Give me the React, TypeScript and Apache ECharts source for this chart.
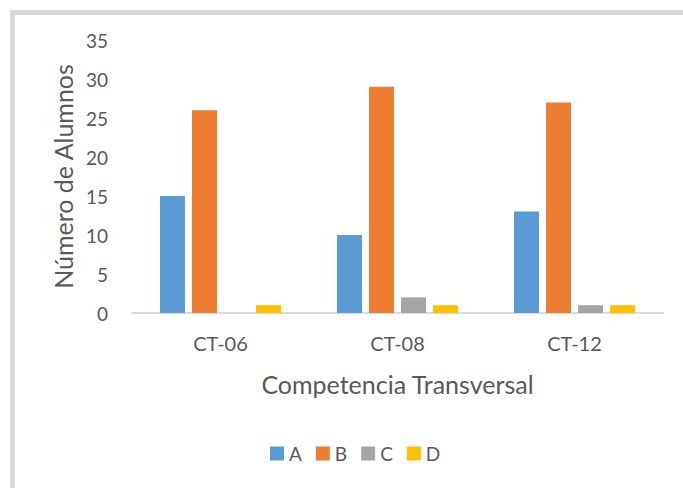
import React, { useEffect, useRef } from "react";
import * as echarts from "echarts";

const categories = ["CT-06", "CT-08", "CT-12"];
const seriesNames = ["A", "B", "C", "D"];
const valuesA = [15, 10, 13];
const valuesB = [26, 29, 27];
const valuesC = [0, 2, 1];
const valuesD = [1, 1, 1];
const colors = ["#5b9bd5", "#ed7d31", "#a5a5a5", "#ffc000"];

export default function App() {
  const ref = useRef<HTMLDivElement>(null);
  useEffect(() => {
    if (!ref.current) return;
    const chart = echarts.init(ref.current, undefined, { renderer: "svg" });
    const data = [valuesA, valuesB, valuesC, valuesD];
    const font = "Lato, 'Open Sans', sans-serif";
    chart.setOption({
      animation: false,
      backgroundColor: "#ffffff",
      textStyle: { fontFamily: font },
      graphic: [
        {
          type: "rect",
          shape: { x: 12.5, y: 12.5, width: 720, height: 520 },
          style: { fill: "none", stroke: "#d9d9d9", lineWidth: 5 },
          silent: true,
        },
      ],
      grid: { left: 132, right: 20, top: 40, bottom: 175 },
      legend: {
        data: seriesNames,
        top: 439,
        left: 265,
        itemWidth: 14,
        itemHeight: 14,
        itemGap: 14,
        icon: "rect",
        textStyle: { color: "#595959", fontSize: 19, fontFamily: font },
      },
      xAxis: {
        type: "category",
        data: categories,
        name: "Competencia Transversal",
        nameLocation: "middle",
        nameGap: 58,
        nameTextStyle: { color: "#595959", fontSize: 25, fontFamily: font },
        axisLine: { lineStyle: { color: "#d9d9d9", width: 2 } },
        axisTick: { show: false },
        axisLabel: { color: "#595959", fontSize: 20, margin: 20, fontFamily: font },
      },
      yAxis: {
        type: "value",
        min: 0,
        max: 35,
        interval: 5,
        name: "Número de Alumnos",
        nameLocation: "middle",
        nameGap: 56,
        nameTextStyle: { color: "#595959", fontSize: 25, fontFamily: font },
        axisLine: { show: false },
        axisTick: { show: false },
        splitLine: { show: false },
        axisLabel: { color: "#595959", fontSize: 19, margin: 24, fontFamily: font },
      },
      series: seriesNames.map((n, i) => ({
        name: n,
        type: "bar",
        data: data[i],
        barGap: "28%",
        barCategoryGap: "31.6%",
        itemStyle: { color: colors[i] },
      })),
    });
    return () => chart.dispose();
  }, []);
  return (
    <div
      ref={ref}
      style={{ position: "fixed", left: 0, top: 0, width: 683, height: 488 }}
    />
  );
}
